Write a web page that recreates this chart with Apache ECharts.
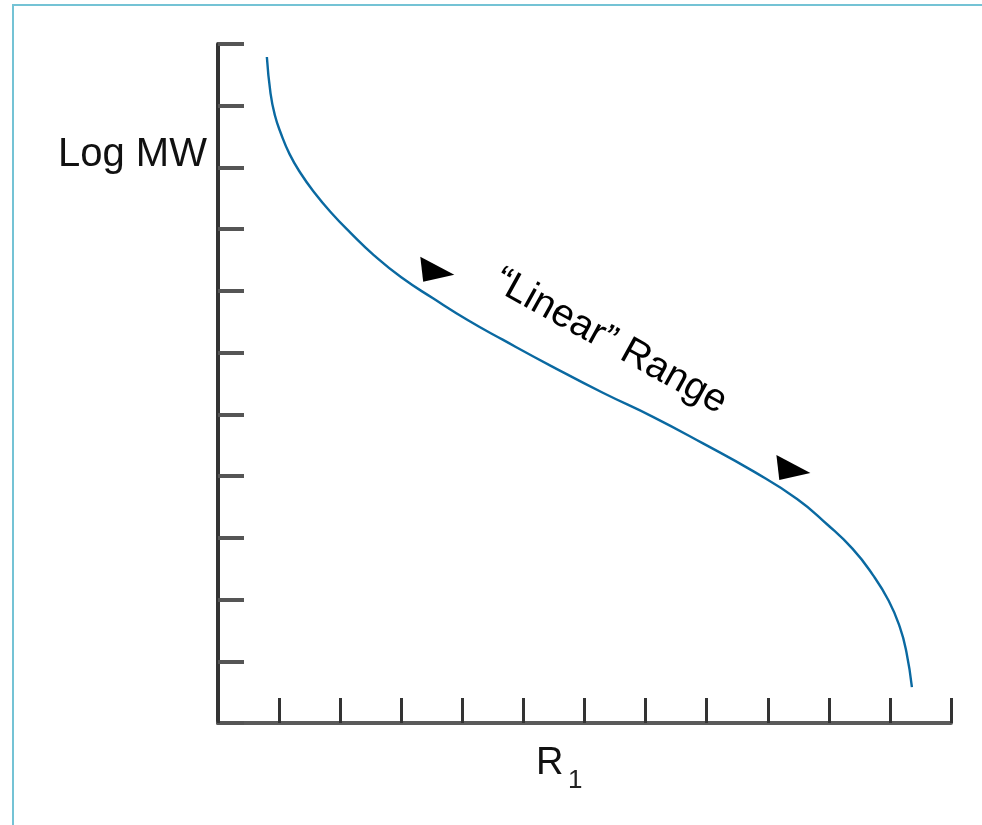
<!DOCTYPE html>
<html>
<head>
<meta charset="utf-8">
<script src="https://cdn.jsdelivr.net/npm/echarts@6/dist/echarts.min.js"></script>
<style>
  html, body { margin: 0; padding: 0; background: #fff; }
  #chart { width: 982px; height: 825px; }
</style>
</head>
<body>
<div id="chart"></div>
<script>
// Calibration curve: R_f (x) vs Log MW (y), in axis units
var curveX = [0.80, 0.86, 0.93, 1.03, 1.17, 1.35, 1.58, 1.85, 2.17, 2.55, 3.00, 3.52, 4.10, 4.66, 5.48, 6.30, 7.12, 7.94, 8.76, 9.48, 9.97, 10.39, 10.72, 10.98, 11.16, 11.27, 11.36];
var curveY = [10.79, 10.20, 9.85, 9.55, 9.22, 8.91, 8.59, 8.27, 7.94, 7.58, 7.22, 6.88, 6.52, 6.21, 5.77, 5.35, 4.96, 4.53, 4.08, 3.63, 3.22, 2.82, 2.40, 1.98, 1.56, 1.15, 0.58];
// arrowheads marking the "linear" range
var arrowX = [3.59, 9.42];
var arrowY = [7.35, 4.14];
// annotation text
var rangeLabel = '\u201cLinear\u201d Range';
var rangeLabelPos = [6.42, 6.18];
var yTitle = 'Log MW';
var xTitleMain = 'R';
var xTitleSub = '1';

var curveData = curveX.map(function (x, i) { return [x, curveY[i]]; });
var arrowData = arrowX.map(function (x, i) { return [x, arrowY[i]]; });

var chart = echarts.init(document.getElementById('chart'), null, { renderer: 'canvas' });
chart.setOption({
  animation: false,
  backgroundColor: 'transparent',
  grid: { left: 218, right: 31, top: 44, bottom: 102, containLabel: false },
  xAxis: {
    type: 'value', min: 0, max: 12, interval: 1,
    axisLine: { show: true, onZero: false, lineStyle: { color: '#5a5a5a', width: 4 } },
    axisTick: { show: true, inside: true, length: 25, lineStyle: { color: '#333', width: 3 } },
    axisLabel: { show: false },
    splitLine: { show: false }
  },
  yAxis: {
    type: 'value', min: 0, max: 11, interval: 1,
    axisLine: { show: true, onZero: false, lineStyle: { color: '#333', width: 4 } },
    axisTick: { show: true, inside: true, length: 26, lineStyle: { color: '#555', width: 4 } },
    axisLabel: { show: false },
    splitLine: { show: false }
  },
  graphic: [
    { type: 'rect', z: -10, shape: { x: 13, y: 5, width: 1100, height: 1000 },
      style: { fill: 'none', stroke: '#74c3d5', lineWidth: 2 } },
    { type: 'text', x: 58, y: 155, style: { text: yTitle, fill: '#111', font: '40px "Liberation Sans", Arial, sans-serif', verticalAlign: 'middle', align: 'left' } },
    { type: 'text', x: 536, y: 764, style: { text: xTitleMain, fill: '#111', font: '38px "Liberation Sans", Arial, sans-serif', verticalAlign: 'middle', align: 'left' } },
    { type: 'text', x: 568, y: 781, style: { text: xTitleSub, fill: '#222', font: '26px "Liberation Sans", Arial, sans-serif', verticalAlign: 'middle', align: 'left' } }
  ],
  series: [
    {
      type: 'line', data: curveData, smooth: 0.5, showSymbol: false,
      lineStyle: { color: '#0a69a1', width: 2.4 }, z: 3
    },
    {
      type: 'scatter', data: arrowData,
      symbol: 'path://M0,0L3,25L35,18Z', symbolSize: [34, 25], symbolKeepAspect: false,
      itemStyle: { color: '#000', opacity: 1 }, z: 4
    },
    {
      type: 'scatter', data: [rangeLabelPos], symbolSize: 0.1,
      itemStyle: { color: 'rgba(0,0,0,0)', opacity: 1 },
      label: {
        show: true, position: 'inside', formatter: rangeLabel, rotate: -29,
        color: '#000', opacity: 1, fontSize: 39, fontFamily: '"Liberation Sans", Arial, sans-serif'
      }, z: 5
    }
  ]
});
</script>
</body>
</html>
